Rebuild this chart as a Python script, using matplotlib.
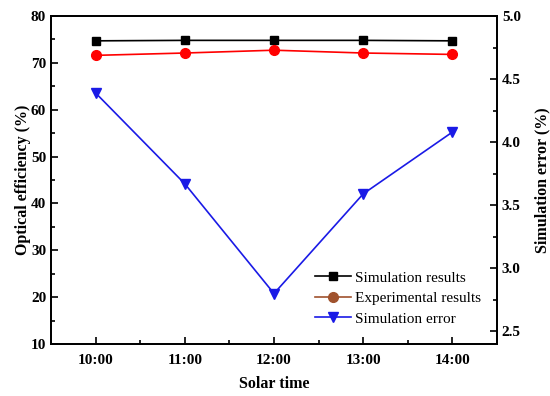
import matplotlib
matplotlib.use("Agg")
import matplotlib.pyplot as plt
from matplotlib.ticker import MultipleLocator

plt.rcParams['font.family'] = ['Liberation Serif', 'DejaVu Serif']

times = ["10:00", "11:00", "12:00", "13:00", "14:00"]
sim_results = [74.7, 74.8, 74.8, 74.8, 74.7]
exp_results = [71.6, 72.1, 72.7, 72.1, 71.8]
sim_error = [4.39, 3.67, 2.80, 3.59, 4.08]

x = list(range(len(times)))

fig = plt.figure(figsize=(5.5, 3.96), dpi=100)
ax = fig.add_axes([51/550, 1-344/396, (497-51)/550, (344-16)/396])
ax2 = ax.twinx()

l1, = ax.plot(x, sim_results, color='black', marker='s', markersize=6, lw=1.2, label='Simulation results')
l2, = ax.plot(x, exp_results, color='red', marker='o', markersize=7, lw=1.2, label='Experimental results')
l3, = ax2.plot(x, sim_error, color='#1a1ae6', marker='v', markersize=7, lw=1.2, label='Simulation error')

ax.set_xlim(-0.5, 4.5)
ax.set_ylim(10, 80)
ax2.set_ylim(2.4, 5.0)
ax.set_xticks(x)
ax.set_xticklabels(times)
ax.xaxis.set_minor_locator(MultipleLocator(0.5))
ax.yaxis.set_major_locator(MultipleLocator(10))
ax.yaxis.set_minor_locator(MultipleLocator(5))
ax2.yaxis.set_major_locator(MultipleLocator(0.5))
ax2.yaxis.set_minor_locator(MultipleLocator(0.25))
ax2.yaxis.set_major_formatter(matplotlib.ticker.FormatStrFormatter('%.1f'))

for a in (ax, ax2):
    for s in a.spines.values():
        s.set_linewidth(1.3)
ax.tick_params(axis='both', which='both', direction='in', top=False, right=False, width=1.2)
ax.tick_params(which='major', length=5, labelsize=11)
ax.tick_params(which='minor', length=3)
ax.tick_params(axis='x', pad=7)
ax2.tick_params(axis='y', which='both', direction='in', width=1.2)
ax2.tick_params(which='major', length=5, labelsize=11)
ax2.tick_params(which='minor', length=3)
for lab in ax.get_xticklabels() + ax.get_yticklabels() + ax2.get_yticklabels():
    lab.set_fontweight('bold')

ax.set_xlabel('Solar time', fontsize=11.5, fontweight='bold', labelpad=7)
ax.set_ylabel('Optical efficiency (%)', fontsize=11.5, fontweight='bold', labelpad=0)
ax2.set_ylabel('Simulation error (%)', fontsize=11.5, fontweight='bold', rotation=90, labelpad=10)

h2, = ax.plot([], [], color='#A0522D', marker='o', markersize=7, lw=1.2)
ax.legend([l1, h2, l3], ['Simulation results', 'Experimental results', 'Simulation error'],
          loc='lower right', bbox_to_anchor=(0.995, 0.014), frameon=False, fontsize=11,
          handlelength=2.35, handletextpad=0.25, labelspacing=0.45)

fig.savefig('out.png', dpi=100)
